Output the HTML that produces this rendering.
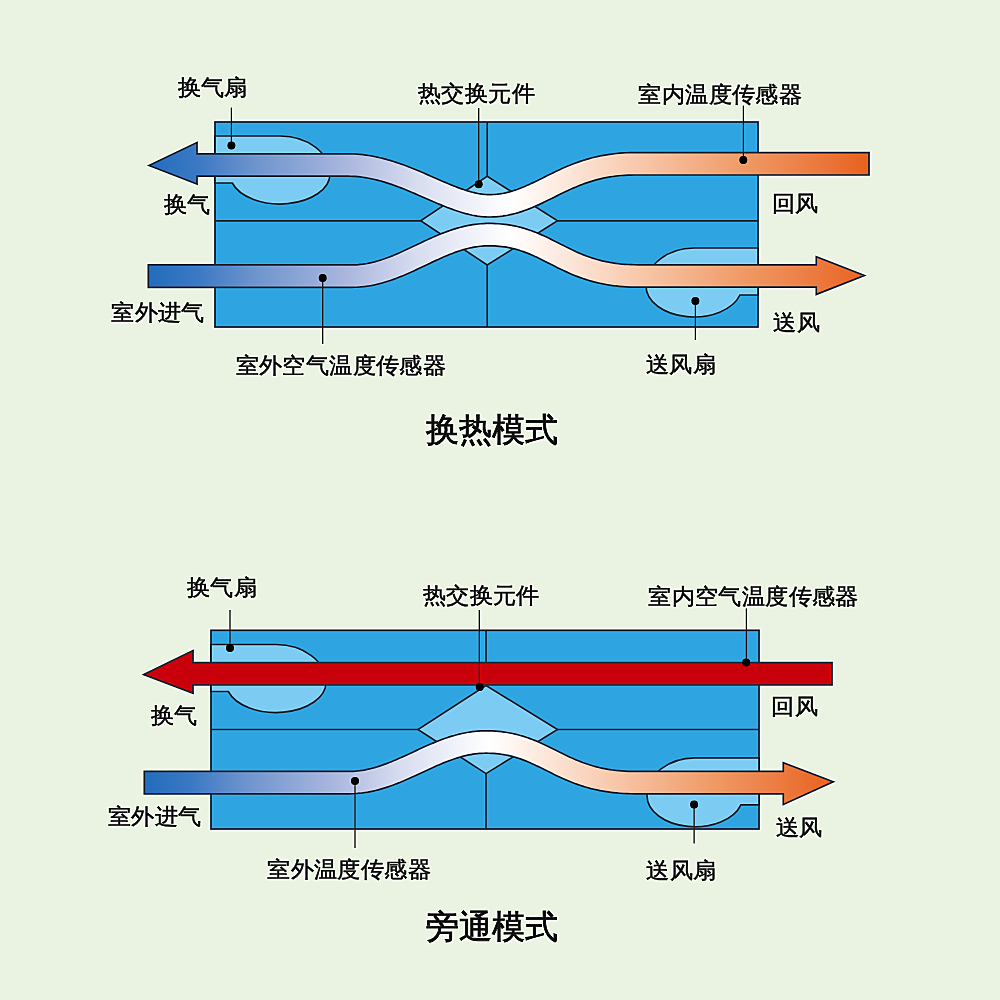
<!DOCTYPE html>
<html><head><meta charset="utf-8"><style>
html,body{margin:0;padding:0;width:1000px;height:1000px;overflow:hidden;background:#eaf3e2}
svg{position:absolute;left:0;top:0}
#wrap{position:absolute;left:-24px;top:-24px;width:1048px;height:1048px;background:#eaf3e2;filter:url(#sh);}
#in{position:absolute;left:24px;top:24px;width:1000px;height:1000px}
.lb{position:absolute;font-family:"Liberation Sans",sans-serif;line-height:1;white-space:nowrap;color:#151515;-webkit-text-stroke:0.5px #151515}
</style></head><body>
<svg width="0" height="0" style="position:absolute"><defs><filter id="sh" x="0" y="0" width="1048" height="1048" filterUnits="userSpaceOnUse" color-interpolation-filters="sRGB"><feGaussianBlur in="SourceGraphic" stdDeviation="0.55" result="s"/><feGaussianBlur in="s" stdDeviation="1.3" result="b"/><feComposite in="s" in2="b" operator="arithmetic" k1="0" k2="1.6" k3="-0.6" k4="0"/></filter></defs></svg>
<div id="wrap"><div id="in">
<svg width="1000" height="1000" viewBox="0 0 1000 1000">
<defs>
<linearGradient id="g1" gradientUnits="userSpaceOnUse" x1="148" y1="0" x2="869" y2="0"><stop offset="0.0000" stop-color="#226cbc"/><stop offset="0.0703" stop-color="#3b79c4"/><stop offset="0.1416" stop-color="#6a92cc"/><stop offset="0.2771" stop-color="#abb7de"/><stop offset="0.3771" stop-color="#d9def0"/><stop offset="0.5021" stop-color="#ffffff"/><stop offset="0.6544" stop-color="#f9d0b8"/><stop offset="0.8252" stop-color="#ef9a66"/><stop offset="0.9183" stop-color="#ec7c42"/><stop offset="1.0000" stop-color="#e8601e"/></linearGradient>
<linearGradient id="g2" gradientUnits="userSpaceOnUse" x1="144" y1="0" x2="833" y2="0"><stop offset="0.0000" stop-color="#226cbc"/><stop offset="0.0703" stop-color="#3b79c4"/><stop offset="0.1416" stop-color="#6a92cc"/><stop offset="0.2772" stop-color="#abb7de"/><stop offset="0.3771" stop-color="#d9def0"/><stop offset="0.5022" stop-color="#ffffff"/><stop offset="0.6545" stop-color="#f9d0b8"/><stop offset="0.8253" stop-color="#ef9a66"/><stop offset="0.9184" stop-color="#ec7c42"/><stop offset="1.0000" stop-color="#e8601e"/></linearGradient>
</defs>
<rect x="215" y="122" width="543" height="205" fill="#2ea5e0" stroke="#223040" stroke-width="1.7"/>
<line x1="215" y1="220.8" x2="758" y2="220.8" stroke="#223040" stroke-width="1.7"/>
<line x1="487.2" y1="122" x2="487.2" y2="327" stroke="#223040" stroke-width="1.7"/>
<path d="M487.2,176.2 L557.5,220.8 L487.2,265 L420.7,220.8Z" fill="#7ccbf2" stroke="#223040" stroke-width="1.7" stroke-linejoin="miter"/>
<path d="M215,136 H280 A50,38 0 0 1 330,174 A50,30 0 0 1 232.3,183 H215Z" fill="#7ccbf2" stroke="#223040" stroke-width="1.7"/>
<path d="M758,248 H694 A48,38 0 0 0 646,286 A48,31 0 0 0 739.93,295 H758Z" fill="#7ccbf2" stroke="#223040" stroke-width="1.7"/>
<path d="M149,165.5 197,142.5 197,153.8 348,153.8 351.01,153.84 354.01,153.95 356.98,154.12 359.93,154.37 362.86,154.68 365.76,155.05 368.64,155.47 371.5,155.96 374.33,156.49 377.14,157.08 379.93,157.71 382.69,158.39 385.43,159.1 388.15,159.86 390.84,160.65 393.52,161.48 396.16,162.34 398.79,163.22 401.39,164.13 403.97,165.06 406.53,166.02 409.07,166.99 411.59,167.98 414.08,168.98 416.55,169.99 419.01,171.02 421.44,172.04 423.85,173.07 426.23,174.1 428.6,175.13 430.95,176.16 433.28,177.18 435.58,178.19 437.87,179.2 440.13,180.18 442.37,181.16 444.59,182.11 446.79,183.05 448.97,183.97 451.13,184.86 453.26,185.72 455.37,186.55 457.46,187.36 459.53,188.13 461.57,188.87 463.58,189.57 465.58,190.23 467.54,190.85 469.48,191.43 471.4,191.96 473.28,192.45 475.14,192.89 476.98,193.29 478.78,193.63 480.55,193.92 482.3,194.17 484.02,194.35 485.71,194.49 487.37,194.57 489,194.6 491.17,194.57 493.3,194.48 495.39,194.33 497.45,194.13 499.48,193.88 501.49,193.57 503.48,193.22 505.45,192.82 507.41,192.36 509.35,191.87 511.28,191.33 513.21,190.75 515.13,190.12 517.05,189.46 518.97,188.75 520.89,188.01 522.81,187.24 524.74,186.43 526.68,185.58 528.63,184.71 530.59,183.81 532.57,182.88 534.55,181.93 536.56,180.95 538.58,179.96 540.63,178.95 542.69,177.92 544.78,176.87 546.9,175.82 549.04,174.76 551.21,173.69 553.41,172.62 555.65,171.55 557.91,170.48 560.22,169.41 562.56,168.35 564.94,167.31 567.36,166.27 569.83,165.26 572.33,164.26 574.89,163.28 577.49,162.33 580.14,161.4 582.84,160.51 585.59,159.65 588.4,158.82 591.26,158.03 594.17,157.29 597.15,156.59 600.18,155.94 603.27,155.34 606.42,154.79 609.64,154.29 612.92,153.86 616.26,153.48 619.67,153.17 623.15,152.93 626.7,152.75 630.31,152.64 634,152.6 869,152.6 869,175 634,175 630.76,175.03 627.6,175.13 624.51,175.28 621.49,175.5 618.53,175.77 615.64,176.09 612.81,176.47 610.04,176.89 607.33,177.37 604.67,177.88 602.06,178.44 599.51,179.05 596.99,179.69 594.52,180.37 592.1,181.08 589.71,181.83 587.35,182.61 585.03,183.42 582.74,184.26 580.48,185.12 578.25,186.01 576.04,186.93 573.85,187.86 571.68,188.81 569.53,189.79 567.39,190.77 565.27,191.77 563.16,192.79 561.06,193.81 558.96,194.84 556.87,195.88 554.78,196.92 552.69,197.96 550.6,199 548.5,200.04 546.4,201.08 544.29,202.1 542.17,203.12 540.04,204.12 537.89,205.11 535.72,206.08 533.54,207.03 531.33,207.95 529.1,208.85 526.85,209.72 524.57,210.56 522.25,211.36 519.91,212.12 517.54,212.84 515.13,213.51 512.69,214.13 510.21,214.7 507.7,215.22 505.15,215.67 502.55,216.07 499.92,216.4 497.25,216.66 494.54,216.85 491.79,216.96 489,217 486.62,216.96 484.25,216.84 481.89,216.65 479.54,216.39 477.19,216.07 474.85,215.68 472.52,215.24 470.2,214.74 467.89,214.19 465.58,213.59 463.27,212.95 460.97,212.26 458.67,211.54 456.38,210.78 454.09,209.98 451.8,209.16 449.51,208.3 447.23,207.42 444.94,206.52 442.65,205.59 440.36,204.64 438.07,203.68 435.78,202.71 433.48,201.72 431.19,200.72 428.89,199.72 426.58,198.71 424.27,197.69 421.96,196.68 419.65,195.67 417.33,194.66 415,193.65 412.68,192.66 410.34,191.67 408.01,190.7 405.66,189.74 403.32,188.8 400.97,187.87 398.61,186.97 396.25,186.09 393.88,185.23 391.51,184.41 389.14,183.6 386.76,182.83 384.37,182.1 381.99,181.39 379.59,180.73 377.19,180.1 374.79,179.51 372.38,178.97 369.97,178.46 367.55,178.01 365.13,177.6 362.7,177.24 360.27,176.93 357.83,176.67 355.38,176.47 352.93,176.32 350.47,176.23 348,176.2 197,176.2 197,176.2 197,184Z" fill="url(#g1)" stroke="#223040" stroke-width="1.7" stroke-linejoin="miter"/>
<path d="M148.3,264.9 352,264.9 354.18,264.87 356.35,264.78 358.51,264.64 360.65,264.43 362.78,264.18 364.9,263.87 367.02,263.52 369.13,263.11 371.24,262.66 373.34,262.16 375.44,261.61 377.53,261.03 379.63,260.4 381.72,259.73 383.82,259.03 385.92,258.29 388.01,257.51 390.11,256.71 392.21,255.87 394.32,255 396.43,254.11 398.54,253.2 400.66,252.26 402.79,251.3 404.92,250.32 407.05,249.33 409.2,248.32 411.35,247.3 413.51,246.28 415.68,245.24 417.86,244.2 420.05,243.16 422.25,242.12 424.47,241.08 426.7,240.04 428.94,239.01 431.19,238 433.47,236.99 435.75,236 438.06,235.02 440.38,234.07 442.73,233.13 445.09,232.23 447.48,231.35 449.88,230.5 452.31,229.68 454.76,228.9 457.24,228.16 459.74,227.46 462.26,226.8 464.82,226.2 467.39,225.64 470,225.14 472.63,224.7 475.29,224.31 477.98,223.99 480.69,223.74 483.44,223.55 486.21,223.44 489,223.4 492.22,223.44 495.37,223.55 498.46,223.73 501.47,223.98 504.43,224.29 507.32,224.67 510.15,225.11 512.92,225.61 515.63,226.17 518.29,226.78 520.89,227.44 523.44,228.14 525.94,228.89 528.39,229.69 530.79,230.51 533.15,231.38 535.47,232.27 537.75,233.19 539.99,234.14 542.19,235.1 544.36,236.09 546.51,237.09 548.62,238.1 550.72,239.13 552.79,240.15 554.84,241.19 556.88,242.22 558.91,243.26 560.93,244.29 562.94,245.31 564.96,246.33 566.97,247.34 568.99,248.34 571.01,249.32 573.05,250.29 575.1,251.25 577.17,252.18 579.26,253.1 581.37,253.99 583.51,254.86 585.68,255.71 587.89,256.53 590.14,257.32 592.43,258.08 594.76,258.81 597.15,259.51 599.59,260.18 602.09,260.81 604.65,261.4 607.28,261.95 609.97,262.46 612.74,262.92 615.59,263.34 618.52,263.72 621.53,264.04 624.63,264.31 627.83,264.52 631.12,264.67 634.51,264.77 638,264.8 816.3,264.8 816.3,264.8 816.3,256.7 864.4,275.5 816.3,294.4 816.3,287.2 816.3,287.2 638,287.2 634.09,287.16 630.28,287.06 626.56,286.88 622.93,286.64 619.39,286.33 615.93,285.97 612.55,285.54 609.26,285.05 606.04,284.51 602.9,283.92 599.83,283.27 596.84,282.58 593.91,281.85 591.06,281.07 588.27,280.25 585.54,279.4 582.88,278.51 580.27,277.59 577.72,276.64 575.23,275.67 572.79,274.68 570.4,273.67 568.06,272.65 565.76,271.61 563.51,270.56 561.3,269.51 559.13,268.45 556.99,267.39 554.88,266.34 552.81,265.29 550.76,264.24 548.73,263.21 546.73,262.19 544.74,261.18 542.77,260.19 540.82,259.22 538.87,258.27 536.94,257.34 535,256.44 533.07,255.56 531.13,254.71 529.19,253.89 527.24,253.1 525.28,252.35 523.3,251.62 521.3,250.93 519.28,250.28 517.23,249.67 515.15,249.09 513.04,248.55 510.88,248.06 508.68,247.61 506.44,247.2 504.14,246.85 501.78,246.54 499.36,246.28 496.88,246.07 494.33,245.92 491.7,245.83 489,245.8 486.82,245.83 484.65,245.92 482.49,246.06 480.35,246.27 478.22,246.52 476.1,246.83 473.98,247.18 471.87,247.59 469.76,248.04 467.66,248.54 465.56,249.09 463.47,249.67 461.37,250.3 459.28,250.97 457.18,251.67 455.08,252.41 452.99,253.19 450.89,253.99 448.79,254.83 446.68,255.7 444.57,256.59 442.46,257.5 440.34,258.44 438.21,259.4 436.08,260.38 433.95,261.37 431.8,262.38 429.65,263.4 427.49,264.42 425.32,265.46 423.14,266.5 420.95,267.54 418.75,268.58 416.53,269.62 414.3,270.66 412.06,271.69 409.81,272.7 407.53,273.71 405.25,274.7 402.94,275.68 400.62,276.63 398.27,277.57 395.91,278.47 393.52,279.35 391.12,280.2 388.69,281.02 386.24,281.8 383.76,282.54 381.26,283.24 378.74,283.9 376.18,284.5 373.61,285.06 371,285.56 368.37,286 365.71,286.39 363.02,286.71 360.31,286.96 357.56,287.15 354.79,287.26 352,287.3 148.3,287.3Z" fill="url(#g1)" stroke="#223040" stroke-width="1.7" stroke-linejoin="miter"/>
<line x1="231.4" y1="107.6" x2="231.4" y2="145.6" stroke="#2a2a2a" stroke-width="1.3"/>
<line x1="478.7" y1="108" x2="478.7" y2="184.3" stroke="#2a2a2a" stroke-width="1.3"/>
<line x1="743.4" y1="105.6" x2="743.4" y2="160" stroke="#2a2a2a" stroke-width="1.3"/>
<line x1="322.7" y1="278" x2="322.7" y2="344" stroke="#2a2a2a" stroke-width="1.3"/>
<line x1="695.4" y1="300.9" x2="695.4" y2="340" stroke="#2a2a2a" stroke-width="1.3"/>
<circle cx="231.4" cy="145.6" r="4" fill="#000"/>
<circle cx="478.7" cy="184.3" r="4" fill="#000"/>
<circle cx="743.3" cy="160" r="4" fill="#000"/>
<circle cx="322.7" cy="278" r="4" fill="#000"/>
<circle cx="695.4" cy="300.9" r="4" fill="#000"/>
<rect x="211" y="630.3" width="548" height="198.7" fill="#2ea5e0" stroke="#223040" stroke-width="1.7"/>
<line x1="211" y1="729.5" x2="759" y2="729.5" stroke="#223040" stroke-width="1.7"/>
<line x1="486" y1="630.3" x2="486" y2="829" stroke="#223040" stroke-width="1.7"/>
<path d="M486,685.5 L557.5,729.5 L486,773.6 L418,729.5Z" fill="#7ccbf2" stroke="#223040" stroke-width="1.7" stroke-linejoin="miter"/>
<path d="M211,644.5 H276 A50,38 0 0 1 326,682.5 A50,30 0 0 1 228.3,691.5 H211Z" fill="#7ccbf2" stroke="#223040" stroke-width="1.7"/>
<path d="M759,757.8 H695 A48,38 0 0 0 647,795.8 A48,31 0 0 0 740.93,804.8 H759Z" fill="#7ccbf2" stroke="#223040" stroke-width="1.7"/>
<path d="M143.8,674.6 193,650.6 193,662.6 832,662.6 832,685 193,685 193,685 193,693.2Z" fill="#c8000b" stroke="#223040" stroke-width="1.7" stroke-linejoin="miter"/>
<path d="M144.3,771.4 349,771.4 351.19,771.37 353.36,771.28 355.52,771.14 357.67,770.94 359.81,770.69 361.94,770.39 364.06,770.04 366.18,769.64 368.29,769.2 370.39,768.71 372.5,768.18 374.6,767.6 376.69,766.99 378.79,766.33 380.89,765.64 382.99,764.92 385.09,764.16 387.19,763.37 389.29,762.55 391.4,761.7 393.51,760.83 395.63,759.93 397.74,759.02 399.87,758.08 402,757.12 404.14,756.15 406.28,755.16 408.43,754.17 410.6,753.16 412.77,752.15 414.95,751.13 417.14,750.11 419.34,749.09 421.55,748.08 423.78,747.06 426.02,746.06 428.28,745.06 430.55,744.08 432.84,743.11 435.14,742.16 437.46,741.22 439.81,740.31 442.17,739.42 444.55,738.56 446.95,737.73 449.38,736.93 451.83,736.17 454.3,735.45 456.8,734.76 459.32,734.12 461.87,733.53 464.44,732.99 467.04,732.5 469.67,732.07 472.32,731.69 475,731.38 477.71,731.13 480.45,730.95 483.21,730.84 486,730.8 489.22,730.84 492.36,730.94 495.44,731.12 498.45,731.37 501.4,731.67 504.29,732.05 507.11,732.48 509.88,732.97 512.59,733.51 515.24,734.11 517.84,734.75 520.39,735.45 522.88,736.18 525.33,736.96 527.73,737.77 530.09,738.61 532.4,739.49 534.68,740.39 536.92,741.32 539.12,742.26 541.29,743.23 543.43,744.21 545.55,745.2 547.64,746.21 549.71,747.21 551.76,748.23 553.8,749.24 555.83,750.26 557.85,751.27 559.87,752.27 561.88,753.27 563.89,754.26 565.91,755.24 567.94,756.21 569.97,757.16 572.02,758.09 574.09,759.01 576.18,759.91 578.3,760.79 580.44,761.64 582.62,762.47 584.83,763.28 587.08,764.05 589.37,764.8 591.71,765.52 594.1,766.21 596.54,766.86 599.04,767.48 601.61,768.06 604.24,768.6 606.94,769.1 609.71,769.56 612.56,769.97 615.49,770.34 618.51,770.65 621.62,770.91 624.82,771.12 628.11,771.28 631.5,771.37 635,771.4 783.3,771.4 783.3,771.4 783.3,762.8 833.2,781.8 783.3,804.4 783.3,793.8 783.3,793.8 635,793.8 631.1,793.76 627.29,793.66 623.57,793.49 619.95,793.25 616.41,792.95 612.95,792.59 609.58,792.17 606.29,791.7 603.08,791.17 599.94,790.58 596.88,789.95 593.89,789.28 590.96,788.56 588.11,787.79 585.32,786.99 582.6,786.16 579.94,785.29 577.34,784.39 574.79,783.46 572.3,782.51 569.86,781.54 567.47,780.55 565.13,779.54 562.84,778.52 560.59,777.5 558.38,776.46 556.2,775.43 554.07,774.39 551.96,773.36 549.88,772.33 547.83,771.3 545.81,770.29 543.81,769.29 541.82,768.3 539.85,767.33 537.9,766.38 535.95,765.44 534.01,764.53 532.08,763.65 530.14,762.79 528.2,761.95 526.26,761.15 524.31,760.37 522.34,759.63 520.36,758.92 518.36,758.24 516.34,757.6 514.29,757 512.2,756.43 510.08,755.91 507.93,755.42 505.72,754.98 503.47,754.58 501.17,754.23 498.81,753.92 496.38,753.67 493.9,753.47 491.34,753.32 488.71,753.23 486,753.2 483.81,753.23 481.64,753.32 479.48,753.46 477.33,753.66 475.19,753.91 473.06,754.21 470.94,754.56 468.82,754.96 466.71,755.4 464.61,755.89 462.5,756.42 460.4,757 458.31,757.61 456.21,758.27 454.11,758.96 452.01,759.68 449.91,760.44 447.81,761.23 445.71,762.05 443.6,762.9 441.49,763.77 439.37,764.67 437.26,765.58 435.13,766.52 433,767.48 430.86,768.45 428.72,769.44 426.57,770.43 424.4,771.44 422.23,772.45 420.05,773.47 417.86,774.49 415.66,775.51 413.45,776.52 411.22,777.54 408.98,778.54 406.72,779.54 404.45,780.52 402.16,781.49 399.86,782.44 397.54,783.38 395.19,784.29 392.83,785.18 390.45,786.04 388.05,786.87 385.62,787.67 383.17,788.43 380.7,789.15 378.2,789.84 375.68,790.48 373.13,791.07 370.56,791.61 367.96,792.1 365.33,792.53 362.68,792.91 360,793.22 357.29,793.47 354.55,793.65 351.79,793.76 349,793.8 144.3,793.8Z" fill="url(#g2)" stroke="#223040" stroke-width="1.7" stroke-linejoin="miter"/>
<line x1="230" y1="610" x2="230" y2="648" stroke="#2a2a2a" stroke-width="1.3"/>
<line x1="479.3" y1="610" x2="479.3" y2="687" stroke="#2a2a2a" stroke-width="1.3"/>
<line x1="746.4" y1="608.4" x2="746.4" y2="662.4" stroke="#2a2a2a" stroke-width="1.3"/>
<line x1="355" y1="781" x2="355" y2="848" stroke="#2a2a2a" stroke-width="1.3"/>
<line x1="694.1" y1="804.4" x2="694.1" y2="843.4" stroke="#2a2a2a" stroke-width="1.3"/>
<circle cx="230" cy="648" r="4" fill="#000"/>
<circle cx="479.7" cy="687" r="4" fill="#000"/>
<circle cx="746.2" cy="662.4" r="4" fill="#000"/>
<circle cx="355" cy="781" r="4" fill="#000"/>
<circle cx="694.1" cy="804.4" r="4" fill="#000"/>
</svg>
<div class="lb" style="left:177.6px;top:76.02px;font-size:23px;letter-spacing:0.4px;transform:scaleY(0.95);transform-origin:0 11.38px;">换气扇</div>
<div class="lb" style="left:418.05px;top:82.02px;font-size:23px;letter-spacing:0.4px;transform:scaleY(0.95);transform-origin:0 11.73px;">热交换元件</div>
<div class="lb" style="left:638.35px;top:82.5px;font-size:23px;letter-spacing:0.4px;transform:scaleY(0.95);transform-origin:0 11.5px;">室内温度传感器</div>
<div class="lb" style="left:163.51px;top:192.91px;font-size:23px;letter-spacing:0.4px;transform:scaleY(0.95);transform-origin:0 11.85px;">换气</div>
<div class="lb" style="left:771.59px;top:192.09px;font-size:23px;letter-spacing:0.4px;transform:scaleY(0.95);transform-origin:0 11.96px;">回风</div>
<div class="lb" style="left:111.23px;top:301.45px;font-size:23px;letter-spacing:0.4px;transform:scaleY(0.95);transform-origin:0 11.15px;">室外进气</div>
<div class="lb" style="left:773.23px;top:310.62px;font-size:23px;letter-spacing:0.4px;transform:scaleY(0.95);transform-origin:0 11.73px;">送风</div>
<div class="lb" style="left:235.6px;top:353.5px;font-size:23px;letter-spacing:0.4px;transform:scaleY(0.95);transform-origin:0 11.5px;">室外空气温度传感器</div>
<div class="lb" style="left:645.72px;top:353.45px;font-size:23px;letter-spacing:0.4px;transform:scaleY(0.95);transform-origin:0 11.15px;">送风扇</div>
<div class="lb" style="left:426.2px;top:412.68px;font-size:33.3px;letter-spacing:0px;-webkit-text-stroke:0.8px #151515;">换热模式</div>
<div class="lb" style="left:186.71px;top:576.41px;font-size:23px;letter-spacing:0.4px;transform:scaleY(0.95);transform-origin:0 11.38px;">换气扇</div>
<div class="lb" style="left:422.89px;top:583.92px;font-size:23px;letter-spacing:0.4px;transform:scaleY(0.95);transform-origin:0 11.73px;">热交换元件</div>
<div class="lb" style="left:648.25px;top:584.55px;font-size:23px;letter-spacing:0.4px;transform:scaleY(0.95);transform-origin:0 11.5px;">室内空气温度传感器</div>
<div class="lb" style="left:150.86px;top:704px;font-size:23px;letter-spacing:0.4px;transform:scaleY(0.95);transform-origin:0 11.85px;">换气</div>
<div class="lb" style="left:771.14px;top:695.34px;font-size:23px;letter-spacing:0.4px;transform:scaleY(0.95);transform-origin:0 11.96px;">回风</div>
<div class="lb" style="left:107.73px;top:804.85px;font-size:23px;letter-spacing:0.4px;transform:scaleY(0.95);transform-origin:0 11.15px;">室外进气</div>
<div class="lb" style="left:775.53px;top:815.82px;font-size:23px;letter-spacing:0.4px;transform:scaleY(0.95);transform-origin:0 11.73px;">送风</div>
<div class="lb" style="left:267.14px;top:858px;font-size:23px;letter-spacing:0.4px;transform:scaleY(0.95);transform-origin:0 11.5px;">室外温度传感器</div>
<div class="lb" style="left:646.17px;top:858.85px;font-size:23px;letter-spacing:0.4px;transform:scaleY(0.95);transform-origin:0 11.15px;">送风扇</div>
<div class="lb" style="left:426.03px;top:909.52px;font-size:33.3px;letter-spacing:0px;-webkit-text-stroke:0.8px #151515;">旁通模式</div>
</div></div>
</body></html>
